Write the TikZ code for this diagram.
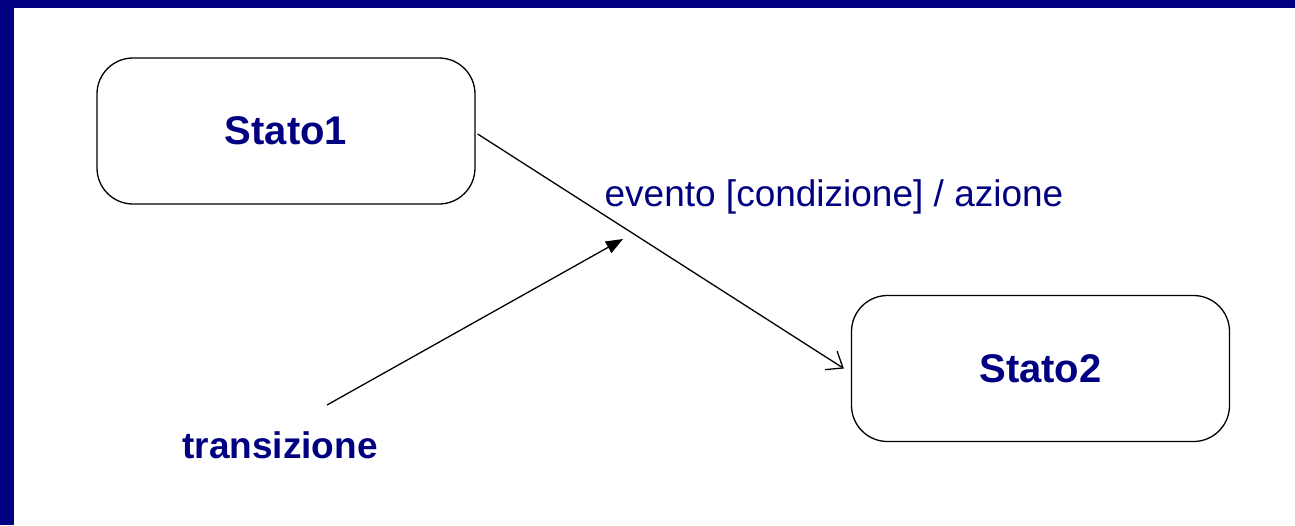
\documentclass[tikz,border=0pt]{standalone}
\usepackage{fontspec}
\setmainfont{Liberation Sans}
\usetikzlibrary{arrows.meta}
\definecolor{navy}{HTML}{000080}
\begin{document}
\begin{tikzpicture}[x=1pt,y=-1pt,
  statebox/.style={draw=black,line width=1.3pt,rounded corners=36pt,fill=white,
    minimum width=378pt,minimum height=146pt,inner sep=0pt,
    text=navy,font=\fontsize{40}{48}\selectfont\bfseries},
  lbl/.style={text=navy,inner sep=0pt},
  conn/.style={line width=1.3pt,black}]
\useasboundingbox (0,0) rectangle (1295,525);
\fill[white] (0,0) rectangle (1295,525);
\fill[navy] (0,0) rectangle (1295,8);
\fill[navy] (0,0) rectangle (14,525);
\node[statebox] (s1) at (286,131) {Stato1};
\node[statebox] (s2) at (1040.5,368.5) {Stato2};
\node[lbl,font=\fontsize{37}{44}\selectfont] (lab) at (834,197) {evento [condizione] / azione};
\node[lbl,font=\fontsize{37}{44}\selectfont\bfseries] (tr) at (280,445) {transizione};
\coordinate (ta) at (327,405);
\coordinate (tb) at (623,239);
\draw[conn,-{Straight Barb[length=14pt,width=22pt,line width=1.3pt]}] ([xshift=2pt,yshift=-3pt]s1.east) -- ([xshift=-7pt]s2.west);
\draw[conn,-{Triangle[length=17pt,width=13pt]}] (ta) -- (tb);
\end{tikzpicture}
\end{document}
